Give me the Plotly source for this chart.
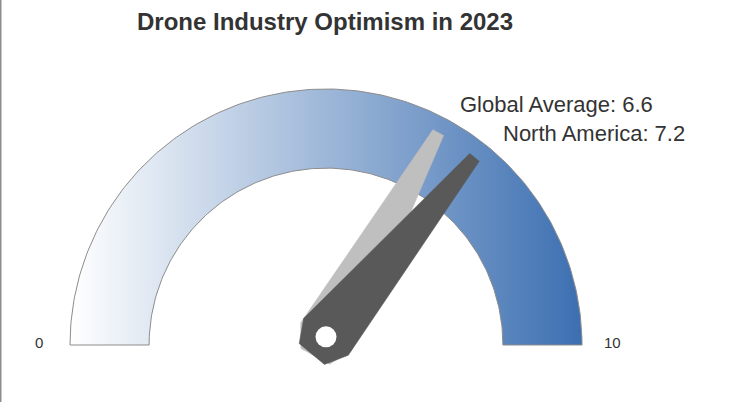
import numpy as np
import plotly.graph_objects as go

# ---- data ----
title_text = "Drone Industry Optimism in 2023"
regions = ["Global Average", "North America"]
scores = [6.6, 7.2]
gauge_min, gauge_max = 0, 10
tick_values = [0, 10]
tick_labels = ["0", "10"]

# ---- styles ----
needle_colors = ["#bfbfbf", "#595959"]
R_OUT, R_IN = 1.0, 0.691
PIVOT = (0.0, 0.032)
TEXT = "#333333"
FONT = "Liberation Sans, Arial, sans-serif"


def val_to_angle(v):
    frac = (v - gauge_min) / (gauge_max - gauge_min)
    return np.pi * (1 - frac)


fig = go.Figure()

# gauge band (annulus) with horizontal gradient
t = np.linspace(np.pi, 0, 200)
xs = np.concatenate([R_OUT * np.cos(t), R_IN * np.cos(t[::-1]), [R_OUT * np.cos(t[0])]])
ys = np.concatenate([R_OUT * np.sin(t), R_IN * np.sin(t[::-1]), [R_OUT * np.sin(t[0])]])
fig.add_trace(go.Scatter(
    x=xs, y=ys, mode="lines", fill="toself",
    line=dict(color="#8c8c8c", width=1),
    fillgradient=dict(type="horizontal",
                      colorscale=[[0, "#ffffff"], [1, "#3c6fb1"]]),
    hoverinfo="skip", showlegend=False))

# needles
shape_pts = [(0.91, 0.024), (0.0, 0.113), (-0.087, 0.064),
             (-0.087, -0.064), (0.0, -0.113), (0.91, -0.024)]
for name, val, col in zip(regions, scores, needle_colors):
    th = val_to_angle(val)
    d = np.array([np.cos(th), np.sin(th)])
    n = np.array([np.sin(th), -np.cos(th)])
    px, py = [], []
    for a, b in shape_pts:
        p = np.array(PIVOT) + a * d + b * n
        px.append(p[0]); py.append(p[1])
    px.append(px[0]); py.append(py[0])
    fig.add_trace(go.Scatter(x=px, y=py, mode="lines", fill="toself",
                             fillcolor=col, line=dict(color=col, width=0.5),
                             hoverinfo="skip", showlegend=False))
    lr = 1.07
    fig.add_annotation(x=PIVOT[0] + lr * np.cos(th), y=lr * np.sin(th),
                       text=f"{name}: {val}", showarrow=False,
                       xanchor="left", yanchor="middle",
                       font=dict(size=22, color=TEXT, family=FONT))

# pivot hole
fig.add_trace(go.Scatter(x=[PIVOT[0]], y=[PIVOT[1]], mode="markers",
                         marker=dict(size=21, color="white", line=dict(width=0)),
                         hoverinfo="skip", showlegend=False))

# end tick labels
for v, lab in zip(tick_values, tick_labels):
    th = val_to_angle(v)
    fig.add_annotation(x=1.12 * np.cos(th), y=0.008, text=lab, showarrow=False,
                       xanchor="center", yanchor="middle",
                       font=dict(size=15, color=TEXT, family=FONT))

W, H = 729, 402
CX, CY, S = 326, 345, 256
fig.update_layout(
    width=W, height=H,
    margin=dict(l=0, r=0, t=0, b=0),
    paper_bgcolor="white", plot_bgcolor="white",
    title=dict(text=f"<b>{title_text}</b>", x=325 / W, xanchor="center",
               y=1 - 22 / H, yanchor="middle",
               font=dict(size=24, color=TEXT, family=FONT)),
    xaxis=dict(range=[-CX / S, (W - CX) / S], visible=False, fixedrange=True),
    yaxis=dict(range=[-(H - CY) / S, CY / S], visible=False, fixedrange=True),
    shapes=[dict(type="line", xref="paper", yref="paper", x0=0.001, x1=0.001,
                 y0=0, y1=1, line=dict(color="#8c8c8c", width=1.5))],
)

fig.write_html("out.html")
